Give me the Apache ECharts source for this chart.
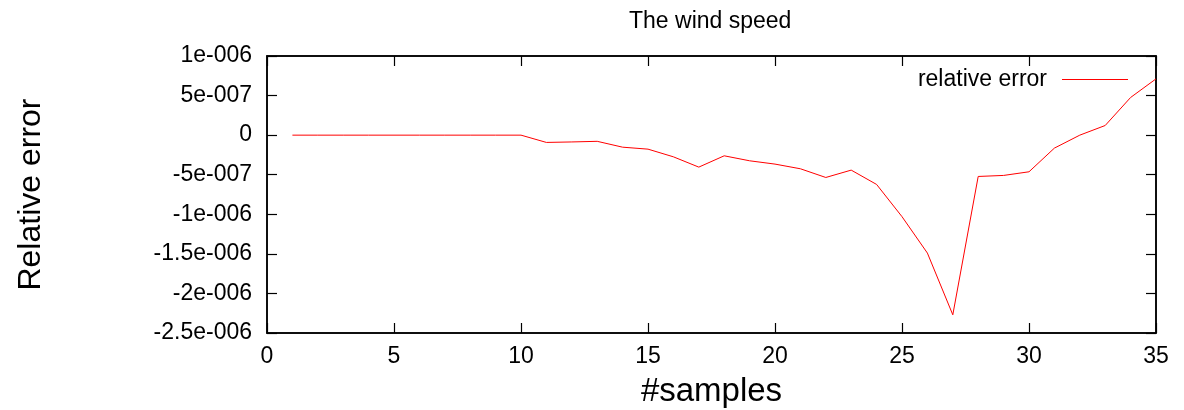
<!DOCTYPE html>
<html>
<head>
<meta charset="utf-8">
<title>The wind speed</title>
<script src="https://cdn.jsdelivr.net/npm/echarts@6/dist/echarts.min.js"></script>
<style>
  html, body { margin: 0; padding: 0; background: #fff; }
  #chart { width: 1184px; height: 410px; }
</style>
</head>
<body>
<div id="chart"></div>
<script>
// Sample index along the x axis
const samples = [1, 2, 3, 4, 5, 6, 7, 8, 9, 10, 11, 12, 13, 14, 15, 16, 17, 18,
  19, 20, 21, 22, 23, 24, 25, 26, 27, 28, 29, 30, 31, 32, 33, 34, 35];

// Relative error of the wind speed at each sample
const relativeError = [0, 0, 0, 0, 0, 0, 0, 0, 0, 0,
  -9.2e-8, -8.6e-8, -7.8e-8, -1.52e-7, -1.77e-7, -2.74e-7, -4.04e-7, -2.61e-7,
  -3.24e-7, -3.66e-7, -4.25e-7, -5.35e-7, -4.42e-7, -6.23e-7, -1.03e-6,
  -1.49e-6, -2.27e-6, -5.22e-7, -5.09e-7, -4.63e-7, -1.64e-7, 0, 1.22e-7,
  4.76e-7, 7.11e-7];

// Tick labels, bottom to top / left to right
const yTickLabels = ['-2.5e-006', '-2e-006', '-1.5e-006', '-1e-006', '-5e-007',
  '0', '5e-007', '1e-006'];
const xTickLabels = ['0', '5', '10', '15', '20', '25', '30', '35'];

const yMin = -2.5e-6, yMax = 1e-6, yStep = 5e-7;
const xMin = 0, xMax = 35, xStep = 5;

const font = 'Liberation Sans, Arial, Helvetica, sans-serif';

const yLabel = v => yTickLabels[Math.round((v - yMin) / yStep)] ?? '';
const xLabel = v => xTickLabels[Math.round((v - xMin) / xStep)] ?? '';

const axisLineStyle = { color: '#000', width: 1.5 };
const tickStyle = { show: true, inside: true, length: 10, lineStyle: { color: '#000', width: 1.2 } };

const chart = echarts.init(document.getElementById('chart'), null, { renderer: 'canvas' });

chart.setOption({
  animation: false,
  backgroundColor: '#fff',
  title: {
    text: 'The wind speed',
    left: 629,
    top: 10,
    padding: 0,
    textStyle: { fontFamily: font, fontSize: 23, fontWeight: 'normal', color: '#000' }
  },
  legend: {
    show: true,
    right: 56,
    top: 68,
    padding: 0,
    align: 'right',
    itemWidth: 66,
    itemHeight: 1,
    icon: 'path://M0,0L66,0L66,1L0,1Z',
    itemStyle: { color: '#ff0000' },
    textStyle: { fontFamily: font, fontSize: 23, color: '#000', padding: [0, 10, 0, 0] },
    data: ['relative error']
  },
  grid: {
    left: 267, right: 28, top: 56, bottom: 77,
    outerBoundsMode: 'none',
    containLabel: false,
    show: true, borderColor: '#000', borderWidth: 1.5, backgroundColor: 'transparent'
  },
  xAxis: [
    {
      type: 'value', min: xMin, max: xMax, interval: xStep,
      position: 'bottom',
      name: '#samples', nameLocation: 'middle', nameGap: 42,
      nameTextStyle: { fontFamily: font, fontSize: 33, color: '#000' },
      axisLine: { show: true, onZero: false, lineStyle: axisLineStyle },
      axisTick: tickStyle,
      axisLabel: { formatter: xLabel, fontFamily: font, fontSize: 23, color: '#000', margin: 12 },
      splitLine: { show: false }
    },
    {
      type: 'value', min: xMin, max: xMax, interval: xStep,
      position: 'top',
      axisLine: { show: true, onZero: false, lineStyle: axisLineStyle },
      axisTick: tickStyle,
      axisLabel: { show: false },
      splitLine: { show: false }
    }
  ],
  yAxis: [
    {
      type: 'value', min: yMin, max: yMax, interval: yStep,
      position: 'left',
      name: 'Relative error', nameLocation: 'middle', nameGap: 220, nameRotate: 90,
      nameTextStyle: { fontFamily: font, fontSize: 32, color: '#000' },
      axisLine: { show: true, onZero: false, lineStyle: axisLineStyle },
      axisTick: tickStyle,
      axisLabel: { formatter: yLabel, fontFamily: font, fontSize: 23, color: '#000', margin: 15 },
      splitLine: { show: false }
    },
    {
      type: 'value', min: yMin, max: yMax, interval: yStep,
      position: 'right',
      axisLine: { show: true, onZero: false, lineStyle: axisLineStyle },
      axisTick: tickStyle,
      axisLabel: { show: false },
      splitLine: { show: false }
    }
  ],
  series: [
    {
      name: 'relative error',
      type: 'line',
      xAxisIndex: 0,
      yAxisIndex: 0,
      symbol: 'none',
      lineStyle: { color: '#ff0000', width: 1 },
      itemStyle: { color: '#ff0000' },
      data: samples.map((s, i) => [s, relativeError[i]])
    }
  ]
});
</script>
</body>
</html>
